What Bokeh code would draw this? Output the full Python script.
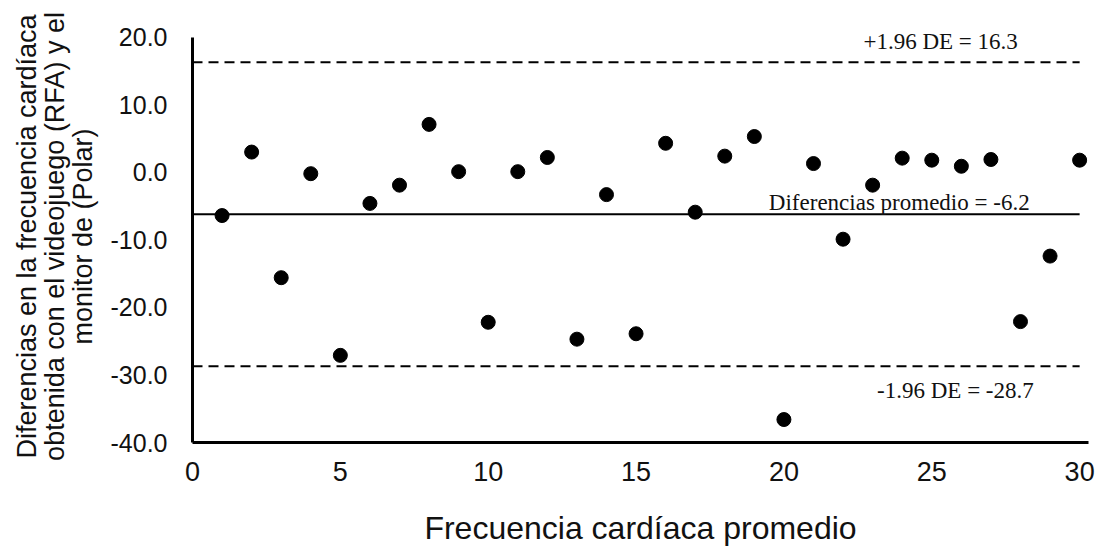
from bokeh.plotting import figure
from bokeh.models import Label, FixedTicker, NumeralTickFormatter, Range1d
from bokeh.embed import file_html
from bokeh.resources import INLINE

# ---- data ----
sujeto = list(range(1, 31))
diferencias = [-6.4, 3.0, -15.6, -0.2, -27.1, -4.6, -1.9, 7.1, 0.1, -22.2,
               0.1, 2.2, -24.7, -3.3, -23.9, 4.3, -5.9, 2.4, 5.3, -36.6,
               1.3, -9.9, -1.9, 2.1, 1.8, 0.9, 1.9, -22.1, -12.4, 1.8]
media = -6.2
lim_sup = 16.3
lim_inf = -28.7
linea_x = [0, 30]
x_ticks = [0, 5, 10, 15, 20, 25, 30]
y_ticks = [-40, -30, -20, -10, 0, 10, 20]

SANS = "Liberation Sans"
SERIF = "Liberation Serif"

p = figure(width=1095, height=550, output_backend="svg", toolbar_location=None,
           x_range=Range1d(0, 30.3), y_range=Range1d(-40, 21),
           min_border_left=192, min_border_top=30, min_border_right=7,
           min_border_bottom=108)
p.outline_line_color = None
p.xgrid.visible = False
p.ygrid.visible = False
p.background_fill_color = "white"
p.border_fill_color = "white"

# lines
p.line(linea_x, [lim_sup, lim_sup], line_color="black", line_width=2, line_dash="10 6")
p.line(linea_x, [lim_inf, lim_inf], line_color="black", line_width=2, line_dash="10 6")
p.line(linea_x, [media, media], line_color="black", line_width=2)

# points
p.scatter(sujeto, diferencias, size=14, fill_color="black", line_color="black")

# axes
for ax in (p.xaxis[0], p.yaxis[0]):
    ax.axis_line_width = 3
    ax.axis_line_color = "black"
    ax.major_tick_in = 0
    ax.major_tick_out = 0
    ax.minor_tick_in = 0
    ax.minor_tick_out = 0
    ax.major_label_text_font = SANS
    ax.major_label_text_color = "#111111"
    ax.axis_label_text_font = SANS
    ax.axis_label_text_font_style = "normal"
    ax.axis_label_text_color = "#111111"

p.yaxis.bounds = (-40, 20)
p.xaxis.ticker = FixedTicker(ticks=x_ticks)
p.yaxis.ticker = FixedTicker(ticks=y_ticks)
p.yaxis.formatter = NumeralTickFormatter(format="0.0")
p.xaxis.major_label_text_font_size = "27px"
p.yaxis.major_label_text_font_size = "25px"
p.xaxis.major_label_standoff = 19
p.yaxis.major_label_standoff = 25
p.xaxis.axis_label = "Frecuencia cardíaca promedio"
p.xaxis.axis_label_text_font_size = "32px"
p.xaxis.axis_label_standoff = 26
p.yaxis.axis_label = ("Diferencias en la frecuencia cardíaca\n"
                      "obtenida con el videojuego (RFA) y el\n"
                      "monitor de (Polar)")
p.yaxis.axis_label_text_font_size = "27px"
p.yaxis.axis_label_standoff = 10
p.yaxis.axis_label_text_line_height = 0.92

# annotations
for txt, xx, yy in [("+1.96 DE = 16.3", 25.3, 19.3),
                    ("Diferencias promedio = -6.2", 23.9, -4.45),
                    ("-1.96 DE = -28.7", 25.8, -32.3)]:
    p.add_layout(Label(x=xx, y=yy, text=txt, text_font=SERIF, text_font_size="23px",
                       text_align="center", text_baseline="middle", text_color="#111111"))

open("out.html", "w").write(file_html(p, INLINE))
